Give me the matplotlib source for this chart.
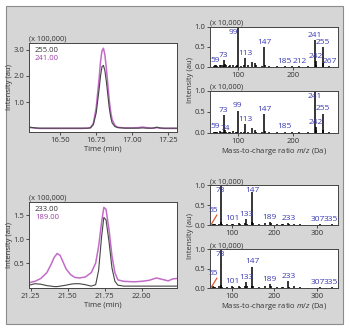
import numpy as np
import matplotlib.pyplot as plt
from matplotlib.patches import Rectangle

plt.rcParams['font.family'] = ['Open Sans', 'DejaVu Sans']
plt.rcParams['font.size'] = 5.5
plt.rcParams['mathtext.fontset'] = 'custom'
plt.rcParams['mathtext.it'] = 'Open Sans:italic'
plt.rcParams['mathtext.rm'] = 'Open Sans'

# ---- chromatograms (x 100,000) ----
t_top = [16.28, 16.30, 16.33, 16.36, 16.40, 16.45, 16.50, 16.55, 16.60, 16.65, 16.69, 16.71, 16.73,
         16.75, 16.77, 16.78, 16.79, 16.80, 16.81, 16.82, 16.83, 16.84, 16.85, 16.86, 16.88,
         16.90, 16.95, 17.00, 17.04, 17.07, 17.10, 17.13, 17.15, 17.17, 17.19, 17.22, 17.26, 17.31]
i_255 = [0.06, 0.05, 0.03, 0.02, 0.02, 0.02, 0.02, 0.02, 0.02, 0.02, 0.02, 0.03, 0.15,
         0.60, 1.50, 2.00, 2.35, 2.40, 2.20, 1.80, 1.30, 0.80, 0.45, 0.22, 0.08,
         0.04, 0.02, 0.02, 0.02, 0.03, 0.02, 0.02, 0.03, 0.06, 0.03, 0.02, 0.02, 0.02]
i_241 = [0.05, 0.04, 0.02, 0.01, 0.01, 0.01, 0.01, 0.01, 0.01, 0.01, 0.02, 0.04, 0.20,
         0.80, 1.90, 2.55, 2.95, 3.05, 2.80, 2.30, 1.70, 1.10, 0.65, 0.35, 0.12,
         0.05, 0.03, 0.03, 0.04, 0.06, 0.04, 0.02, 0.02, 0.04, 0.02, 0.01, 0.01, 0.01]

t_bot = [21.24, 21.28, 21.32, 21.36, 21.39, 21.41, 21.43, 21.45, 21.47, 21.49, 21.52, 21.55,
         21.58, 21.62, 21.66, 21.69, 21.71, 21.73, 21.745, 21.76, 21.78, 21.80, 21.82, 21.84,
         21.88, 21.95, 22.00, 22.05, 22.10, 22.14, 22.18, 22.21, 22.24]
i_189 = [0.09, 0.12, 0.18, 0.30, 0.48, 0.62, 0.70, 0.66, 0.52, 0.38, 0.26, 0.20,
         0.19, 0.21, 0.30, 0.50, 0.85, 1.35, 1.66, 1.62, 1.20, 0.65, 0.30, 0.15,
         0.12, 0.11, 0.12, 0.14, 0.19, 0.16, 0.13, 0.17, 0.18]
i_233 = [0.04, 0.07, 0.06, 0.03, 0.02, 0.01, 0.01, 0.02, 0.03, 0.04, 0.06, 0.07,
         0.07, 0.05, 0.02, 0.05, 0.35, 1.05, 1.45, 1.40, 0.95, 0.40, 0.12, 0.04,
         0.02, 0.02, 0.02, 0.02, 0.02, 0.02, 0.02, 0.02, 0.02]

# ---- mass spectra (x 10,000) ----
mz_a = [55, 57, 59, 61, 67, 69, 71, 73, 75, 77, 83, 85, 91, 95, 97, 99, 105, 111, 113, 117,
        125, 131, 133, 143, 147, 148, 157, 171, 185, 199, 212, 227, 241, 242, 243, 255, 256, 267]
h_255 = [0.03, 0.04, 0.05, 0.03, 0.06, 0.05, 0.04, 0.17, 0.08, 0.04, 0.03, 0.04, 0.05, 0.02, 0.04, 1.00,
         0.03, 0.04, 0.23, 0.04, 0.13, 0.10, 0.04, 0.03, 0.50, 0.06, 0.02, 0.02, 0.03, 0.02,
         0.02, 0.02, 0.68, 0.15, 0.05, 0.50, 0.10, 0.02]
h_241 = [0.02, 0.03, 0.03, 0.02, 0.04, 0.03, 0.03, 0.42, 0.08, 0.03, 0.02, 0.03, 0.04, 0.02, 0.03, 0.53,
         0.02, 0.03, 0.20, 0.03, 0.12, 0.07, 0.03, 0.02, 0.45, 0.05, 0.02, 0.02, 0.03, 0.02,
         0.01, 0.01, 1.00, 0.14, 0.06, 0.46, 0.08, 0.01]
lab_255 = [59, 73, 99, 113, 147, 185, 212, 241, 242, 255, 267]
lab_241 = [59, 74, 73, 99, 113, 147, 185, 241, 242, 255]

mz_b = [55, 57, 59, 69, 73, 75, 77, 89, 101, 103, 117, 119, 131, 133, 135, 147, 148, 149,
        163, 177, 189, 191, 205, 217, 221, 233, 235, 245, 259, 281, 307, 335]
h_233 = [0.04, 0.03, 0.03, 0.04, 1.00, 0.09, 0.03, 0.02, 0.04, 0.02, 0.05, 0.02, 0.06, 0.15, 0.04,
         0.83, 0.08, 0.06, 0.03, 0.05, 0.08, 0.06, 0.03, 0.02, 0.03, 0.05, 0.02, 0.04, 0.02, 0.01,
         0.02, 0.02]
h_189 = [0.04, 0.03, 0.03, 0.04, 1.00, 0.09, 0.03, 0.02, 0.04, 0.02, 0.05, 0.02, 0.06, 0.15, 0.04,
         0.55, 0.06, 0.05, 0.03, 0.04, 0.10, 0.05, 0.03, 0.02, 0.03, 0.17, 0.03, 0.04, 0.02, 0.01,
         0.02, 0.02]
lab_b = [55, 73, 101, 133, 147, 189, 233, 307, 335]
slash_mz = [51, 64]
slash_h = [0.02, 0.25]

panel_c = '#d6d6d6'
txt_c = '#333333'
blue = '#3b3bb3'
pink = '#c36bc8'

# label nudges (x shift in m/z, y override)
nudge_x = {99: -9, 307: -6, 335: -3, 59: -2, 74: 3}
nudge_y = {55: 0.28}

fig = plt.figure(figsize=(3.5, 3.33), dpi=100)
fig.patches.append(Rectangle((0.017, 0.027), 0.963, 0.955, transform=fig.transFigure,
                             facecolor=panel_c, edgecolor='#8c8c8c', lw=0.8, zorder=-5))


def style(ax):
    for s in ax.spines.values():
        s.set_color('#444444')
        s.set_linewidth(0.7)
    ax.tick_params(length=2, width=0.6, pad=1.5, colors=txt_c, labelsize=5.5)


def chrom(rect, t, dark, light, names, xlim, ylim, xt, yt, ytl):
    ax = fig.add_axes(rect)
    ax.plot(t, light, color=pink, lw=1.1)
    ax.plot(t, dark, color='#444444', lw=0.8)
    ax.set_xlim(xlim)
    ax.set_ylim(ylim)
    ax.set_xticks(xt)
    ax.set_xticklabels(['%.2f' % v for v in xt])
    ax.set_yticks(yt)
    ax.set_yticklabels(ytl)
    style(ax)
    ax.set_xlabel('Time (min)', color=txt_c, fontsize=5.5, labelpad=1)
    ax.set_ylabel('Intensity (au)', color=txt_c, fontsize=5.5, labelpad=0)
    ax.text(0.0, 1.03, '(x 100,000)', transform=ax.transAxes, color=txt_c, fontsize=5.3)
    ax.text(0.04, 0.96, names[0], transform=ax.transAxes, color=txt_c, fontsize=5.5, va='top')
    ax.text(0.04, 0.86, names[1], transform=ax.transAxes, color='#9b3fa6', fontsize=5.5, va='top')
    return ax


def spec(rect, mz, h, labels, xlim, xt, xlab, slash=False):
    ax = fig.add_axes(rect)
    ax.vlines(mz, 0, h, color='black', lw=1.1)
    if slash:
        ax.plot(slash_mz, slash_h, color='#e0562e', lw=0.9)
    ax.set_xlim(xlim)
    ax.set_ylim(0, 1.0)
    ax.set_xticks(xt)
    ax.set_yticks([0, 0.5, 1.0])
    ax.set_yticklabels(['0.0', '0.5', '1.0'])
    style(ax)
    ax.text(0.0, 1.05, '(x 10,000)', transform=ax.transAxes, color=txt_c, fontsize=5.3)
    for m in labels:
        if m in mz:
            hv = h[mz.index(m)]
        else:
            hv = 0.0
        x = m + (nudge_x.get(m, 0) if (m != 99 or hv >= 0.99) else 0)
        y = nudge_y.get(m, min(hv + 0.03, 0.78))
        ax.text(x, y, str(m), color=blue, fontsize=6, ha='center', va='bottom')
    if xlab:
        ax.set_xlabel('Mass-to-charge ratio $\\it{m/z}$ (Da)', color=txt_c, fontsize=5.5, labelpad=1)
    return ax


chrom([0.083, 0.604, 0.423, 0.267], t_top, i_255, i_241, ['255.00', '241.00'],
      (16.285, 17.31), (-0.12, 3.25), [16.50, 16.75, 17.00, 17.25], [1, 2, 3], ['1.0', '2.0', '3.0'])
chrom([0.083, 0.135, 0.423, 0.258], t_bot, i_233, i_189, ['233.00', '189.00'],
      (21.24, 22.24), (-0.02, 1.77), [21.25, 21.50, 21.75, 22.00], [0.5, 1.0, 1.5], ['0.5', '1.0', '1.5'])

spec([0.6, 0.799, 0.366, 0.12], mz_a, h_255, lab_255, (48, 283), [100, 200], False)
spec([0.6, 0.601, 0.366, 0.126], mz_a, h_241, lab_241, (48, 283), [100, 200], True)
spec([0.6, 0.324, 0.366, 0.12], mz_b, h_233, lab_b, (48, 350), [100, 200, 300], False, slash=True)
spec([0.6, 0.135, 0.366, 0.117], mz_b, h_189, lab_b, (48, 350), [100, 200, 300], True, slash=True)

fig.text(0.543, 0.76, 'Intensity (au)', rotation=90, ha='center', va='center', color=txt_c, fontsize=5.5)
fig.text(0.543, 0.29, 'Intensity (au)', rotation=90, ha='center', va='center', color=txt_c, fontsize=5.5)

fig.savefig('out.png', dpi=100)
